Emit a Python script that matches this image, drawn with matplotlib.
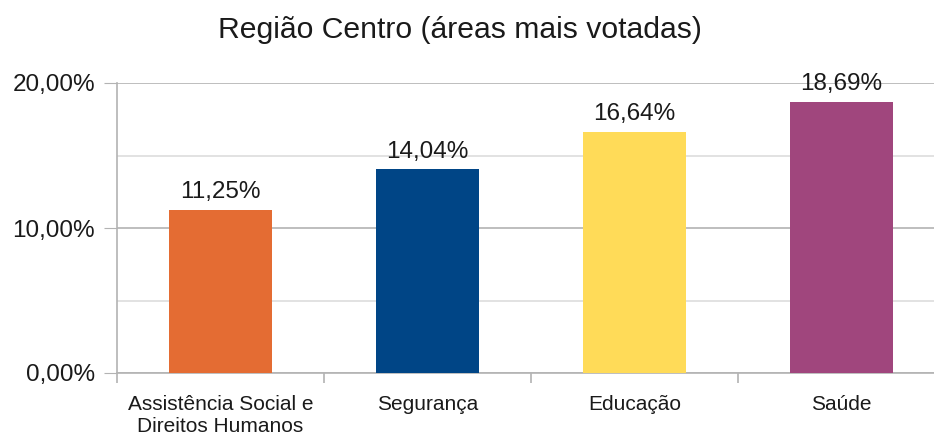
import numpy as np
import matplotlib
matplotlib.use('Agg')
import matplotlib.pyplot as plt
from matplotlib.ticker import FuncFormatter

plt.rcParams['font.family'] = ['Liberation Sans', 'DejaVu Sans']

# dados
categorias = ['Assistência Social e\nDireitos Humanos', 'Segurança', 'Educação', 'Saúde']
valores = [11.25, 14.04, 16.64, 18.69]
cores = ['#E46C33', '#004586', '#FFDB58', '#A0467D']

fig = plt.figure(figsize=(9.34, 4.32), dpi=100)
ax = fig.add_axes([117 / 934, 59 / 432, 828 / 934, 290 / 432])

x = np.arange(len(categorias))
barras = ax.bar(x, valores, width=0.5, color=cores, zorder=3)

# rótulos das barras
for xi, v in zip(x, valores):
    ax.annotate(f'{v:.2f}%'.replace('.', ','), (xi, v), xytext=(0, 8.5),
                textcoords='offset points', ha='center', va='baseline',
                fontsize=17.5, color='#1a1a1a')

ax.set_xlim(-0.5, len(categorias) - 0.5)
ax.set_ylim(0, 20)

# eixo y
ax.set_yticks([0, 10, 20])
ax.set_yticks([5, 15], minor=True)
ax.yaxis.set_major_formatter(FuncFormatter(lambda v, p: f'{v:.2f}%'.replace('.', ',')))
ax.tick_params(axis='y', which='major', length=9.4, color='#b3b3b3', pad=6.5,
               labelsize=17.5, labelcolor='#1a1a1a')
ax.tick_params(axis='y', which='minor', length=0)
ax.grid(axis='y', which='major', color='#b3b3b3', linewidth=1.2, zorder=0)
ax.grid(axis='y', which='minor', color='#dddddd', linewidth=1.2, zorder=0)

# eixo x
ax.set_xticks(x)
ax.set_xticklabels(categorias)
ax.set_xticks(np.arange(len(categorias) + 1) - 0.5, minor=True)
ax.tick_params(axis='x', which='major', length=0, pad=16, labelsize=15,
               labelcolor='#1a1a1a')
ax.tick_params(axis='x', which='minor', length=7.2, color='#b3b3b3', width=1.2)

for s in ['top', 'right']:
    ax.spines[s].set_visible(False)
ax.spines['left'].set_color('#b3b3b3')
ax.spines['left'].set_linewidth(1.2)
ax.spines['bottom'].set_color('#b3b3b3')
ax.spines['bottom'].set_linewidth(1.2)

fig.text(460 / 934, 1 - 38 / 432, 'Região Centro (áreas mais votadas)',
         ha='center', va='baseline', fontsize=21.7, color='#1a1a1a')

fig.savefig('out.png', dpi=100)
